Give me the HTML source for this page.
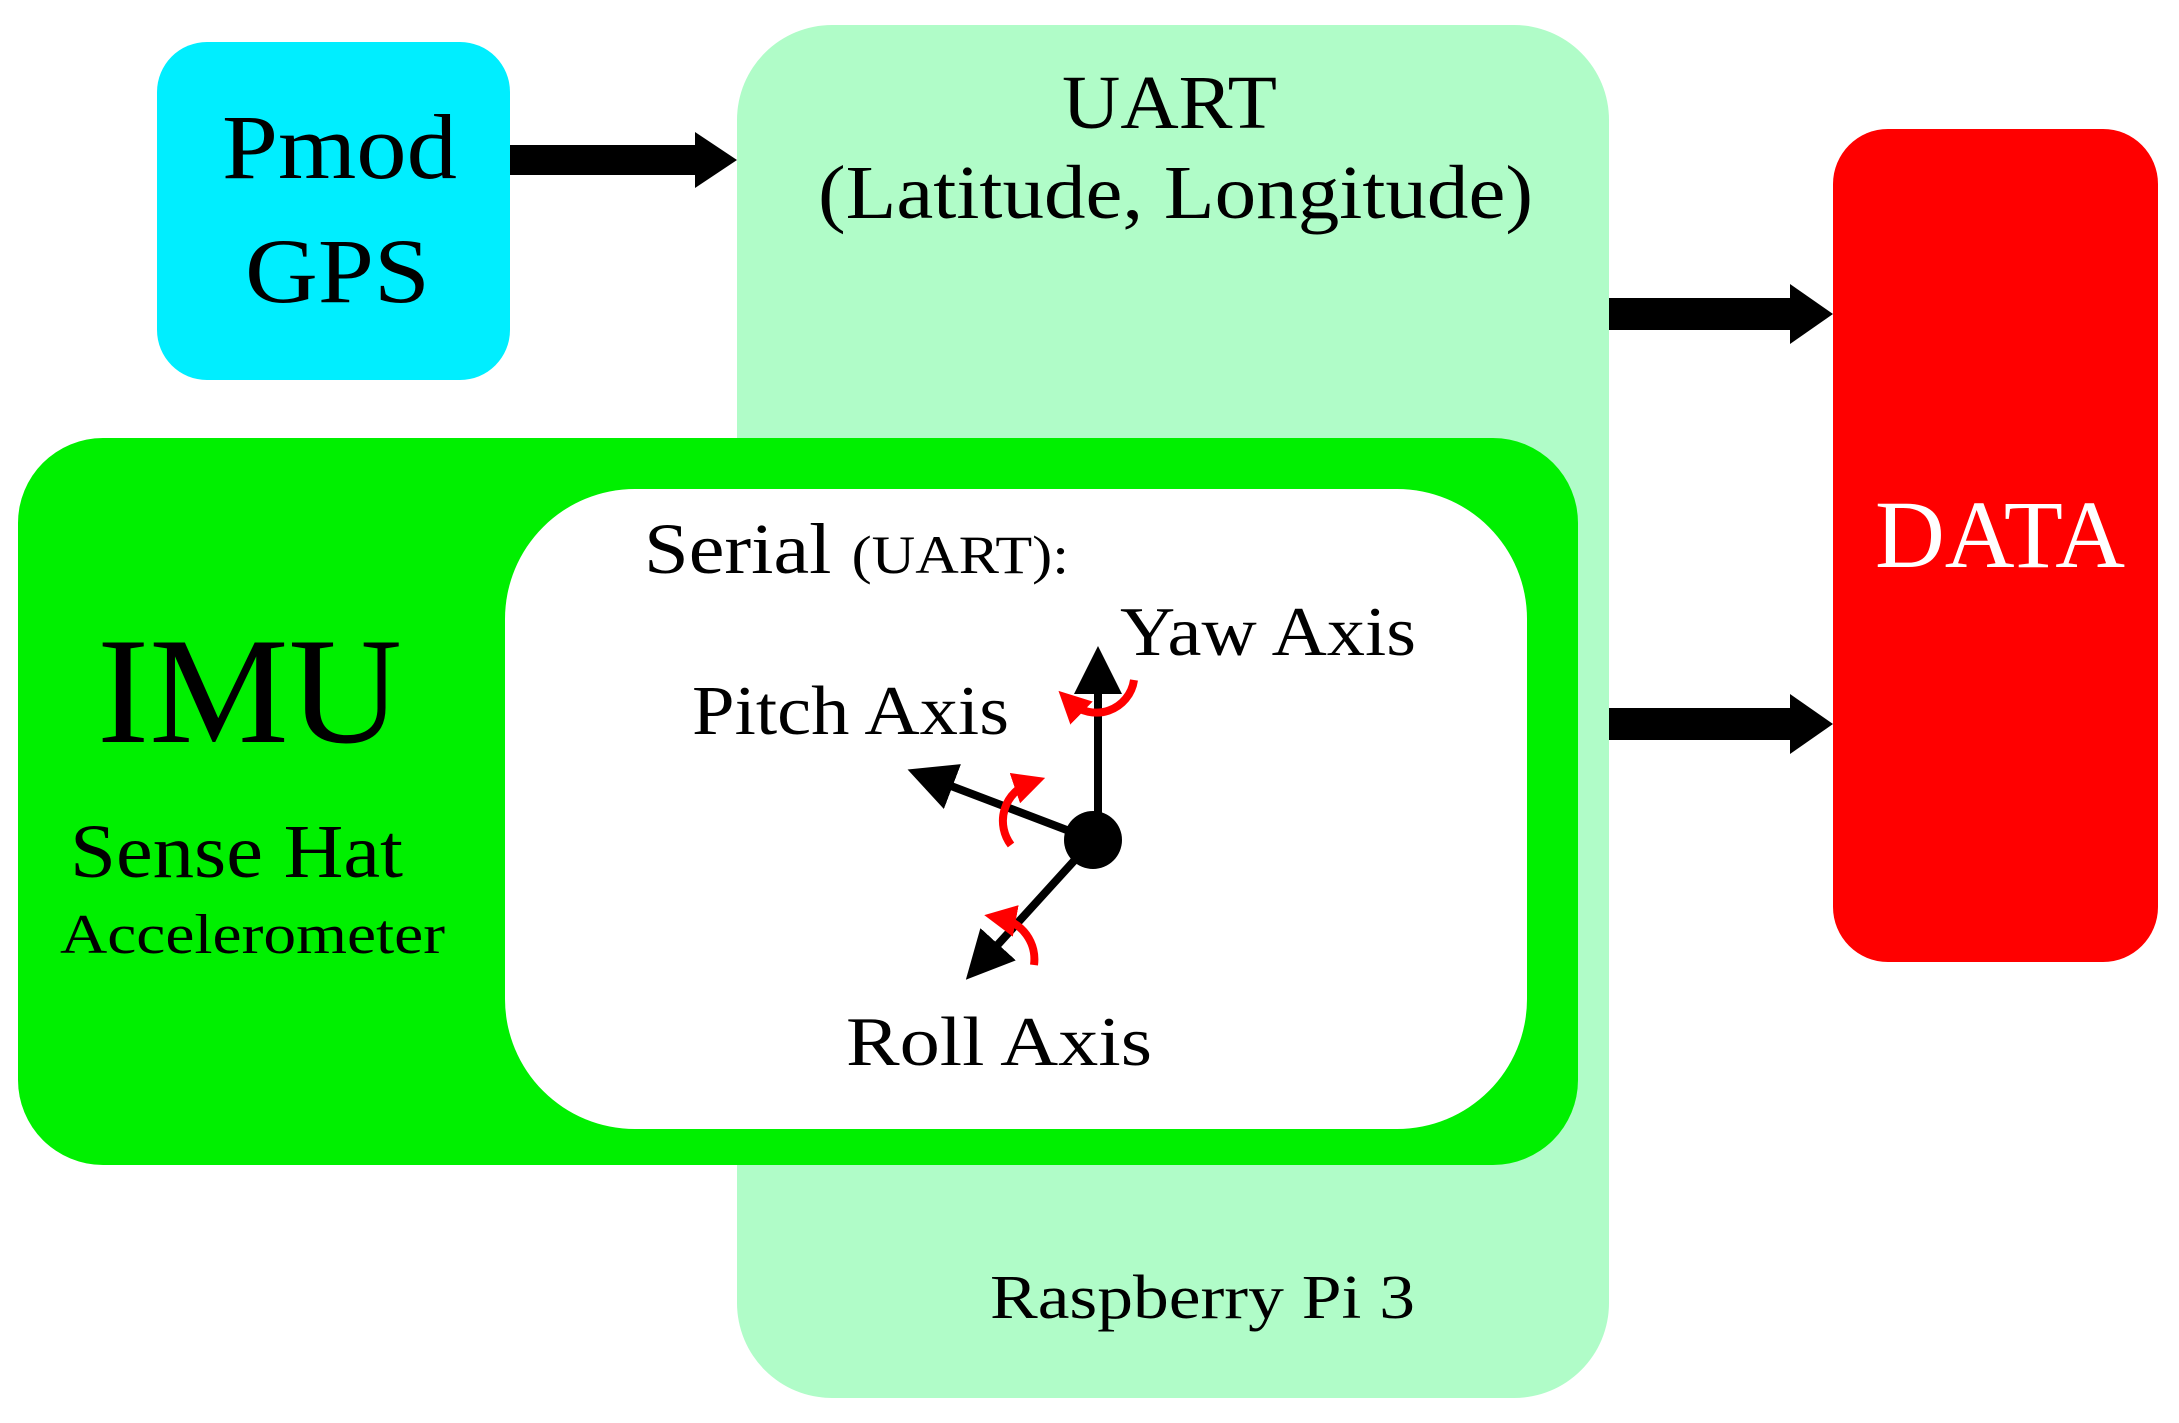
<!DOCTYPE html>
<html><head><meta charset="utf-8"><style>
html,body{margin:0;padding:0;background:#fff;}
svg{display:block;}
text{font-family:"Liberation Serif",serif;fill:#000;}
</style></head><body>
<svg width="2179" height="1423" viewBox="0 0 2179 1423" xmlns="http://www.w3.org/2000/svg">
<defs>
<marker id="ah" markerWidth="6" markerHeight="6" refX="3" refY="3" orient="auto" markerUnits="strokeWidth"><path d="M0,0 L6,3 L0,6 z" fill="#000"/></marker>
<marker id="rh" markerWidth="4" markerHeight="4" refX="2" refY="2" orient="auto" markerUnits="strokeWidth"><path d="M0,0 L4,2 L0,4 z" fill="#f00"/></marker>
</defs>
<rect x="737" y="25" width="872" height="1373" rx="95" fill="#b0fcc8"/>
<rect x="157" y="42" width="353" height="338" rx="50" fill="#00eeff"/>
<rect x="18" y="438" width="1560" height="727" rx="85" fill="#00f000"/>
<rect x="505" y="489" width="1022" height="640" rx="130" fill="#fff"/>
<rect x="1833" y="129" width="325" height="833" rx="55" fill="#ff0000"/>
<rect x="510" y="145" width="190" height="30" fill="#000"/>
<path d="M695,132 L737,160 L695,188 z" fill="#000"/>
<rect x="1609" y="298" width="187" height="32" fill="#000"/>
<path d="M1790,284 L1833,314 L1790,344 z" fill="#000"/>
<rect x="1609" y="708" width="187" height="32" fill="#000"/>
<path d="M1790,694 L1833,724 L1790,754 z" fill="#000"/>
<text x="222" y="178" font-size="92" textLength="235" lengthAdjust="spacingAndGlyphs">Pmod</text>
<text x="245" y="302" font-size="92" textLength="185" lengthAdjust="spacingAndGlyphs">GPS</text>
<text x="1062" y="128" font-size="76" textLength="215" lengthAdjust="spacingAndGlyphs">UART</text>
<text x="818" y="218" font-size="76" textLength="715" lengthAdjust="spacingAndGlyphs">(Latitude, Longitude)</text>
<text x="1875" y="567" font-size="96" textLength="250" lengthAdjust="spacingAndGlyphs" style="fill:#fff">DATA</text>
<text x="97" y="742" font-size="152" textLength="305" lengthAdjust="spacingAndGlyphs">IMU</text>
<text x="70" y="877" font-size="76" textLength="333" lengthAdjust="spacingAndGlyphs">Sense Hat</text>
<text x="60" y="953" font-size="56" textLength="385" lengthAdjust="spacingAndGlyphs">Accelerometer</text>
<text x="644" y="573" font-size="72" textLength="425" lengthAdjust="spacingAndGlyphs">Serial <tspan font-size="54">(UART):</tspan></text>
<text x="1120" y="655" font-size="70" textLength="296" lengthAdjust="spacingAndGlyphs">Yaw Axis</text>
<text x="692" y="734" font-size="70" textLength="317" lengthAdjust="spacingAndGlyphs">Pitch Axis</text>
<text x="846" y="1065" font-size="70" textLength="306" lengthAdjust="spacingAndGlyphs">Roll Axis</text>
<text x="990" y="1318" font-size="62" textLength="425" lengthAdjust="spacingAndGlyphs">Raspberry Pi 3</text>
<line x1="1098" y1="840" x2="1098" y2="670" stroke="#000" stroke-width="8" marker-end="url(#ah)"/>
<line x1="1093" y1="840" x2="930" y2="778" stroke="#000" stroke-width="8" marker-end="url(#ah)"/>
<line x1="1093" y1="840" x2="982" y2="962" stroke="#000" stroke-width="8" marker-end="url(#ah)"/>
<circle cx="1093" cy="840" r="29" fill="#000"/>
<path d="M1134,680 A38,38 0 0 1 1070,702" fill="none" stroke="#f00" stroke-width="8" marker-end="url(#rh)"/>
<path d="M1011,845 A40,40 0 0 1 1030,783" fill="none" stroke="#f00" stroke-width="8" marker-end="url(#rh)"/>
<path d="M1034,965 A42,42 0 0 0 1000,918" fill="none" stroke="#f00" stroke-width="8" marker-end="url(#rh)"/>
</svg>
</body></html>
